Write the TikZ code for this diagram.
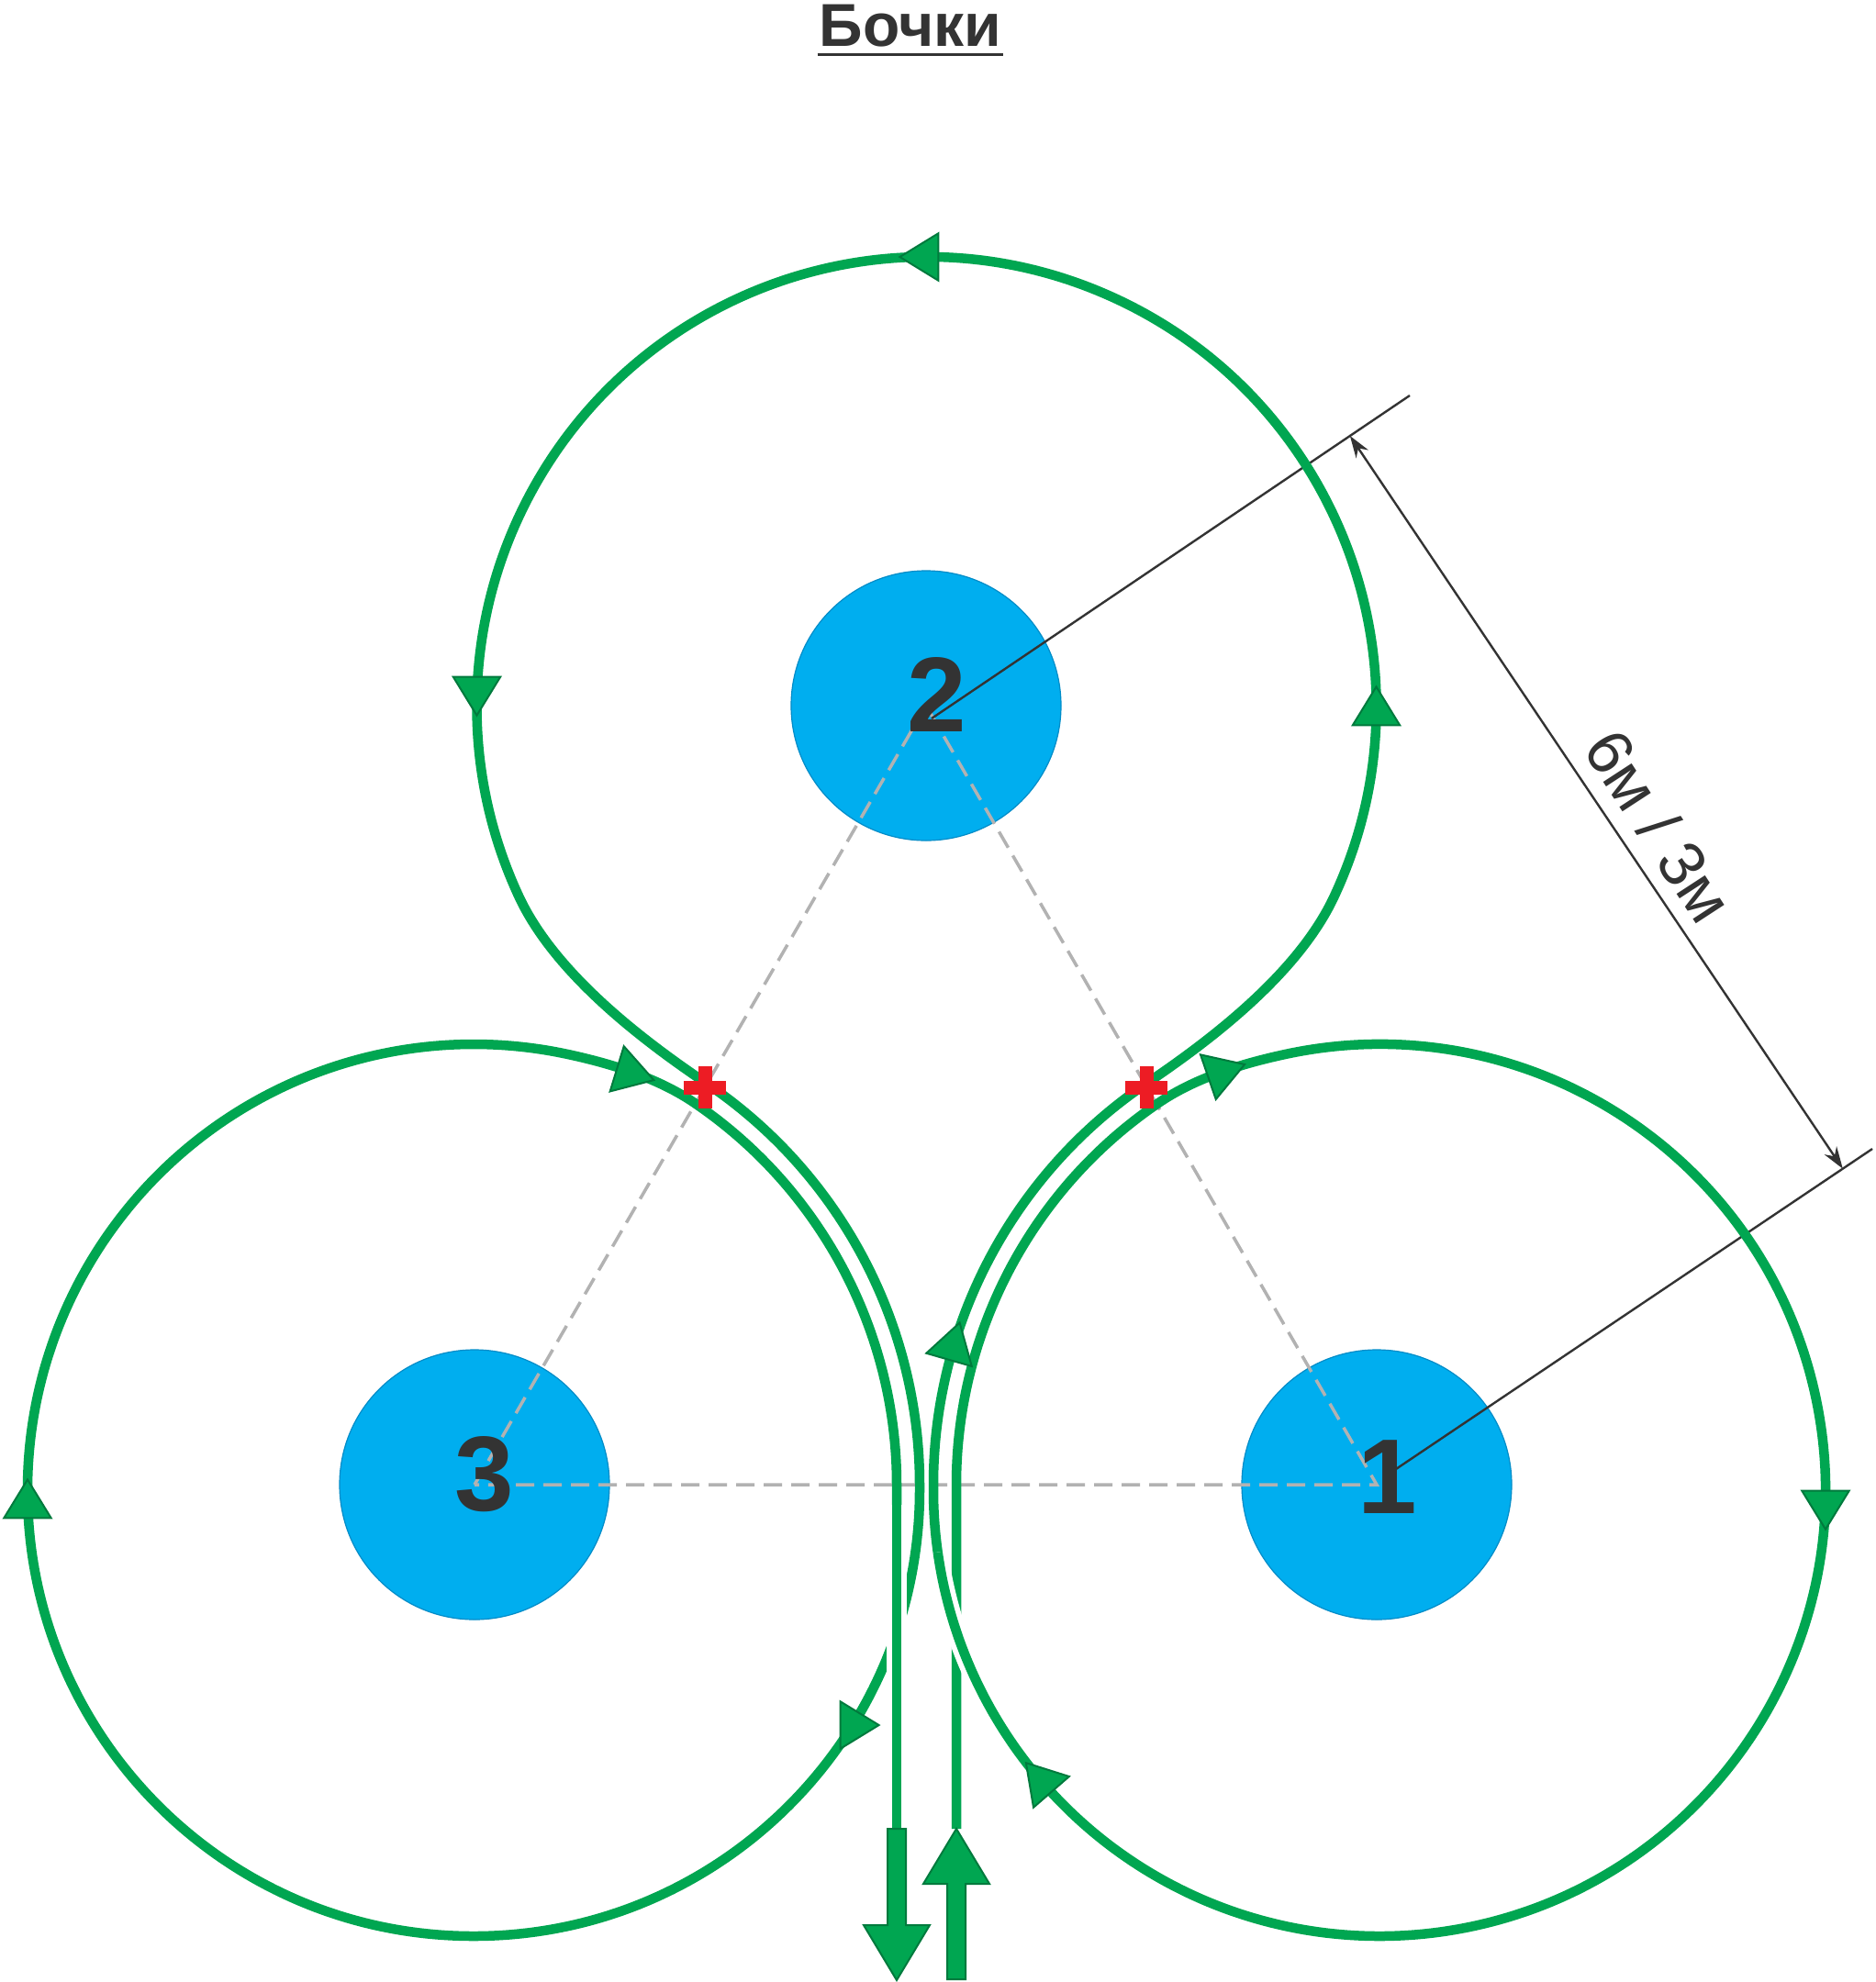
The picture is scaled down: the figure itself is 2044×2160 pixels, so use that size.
\documentclass[tikz,border=0pt]{standalone}
\usepackage{fontspec}
\setmainfont{Liberation Sans}
\usetikzlibrary{calc,arrows.meta,shapes.geometric}

\definecolor{trackgreen}{RGB}{0,166,81}
\definecolor{trackedge}{RGB}{0,122,61}
\definecolor{barrelblue}{RGB}{0,174,239}
\definecolor{barreledge}{RGB}{0,140,200}
\definecolor{crossred}{RGB}{237,28,36}
\definecolor{axisgray}{RGB}{178,178,178}
\definecolor{inkgray}{RGB}{51,51,51}

\tikzset{
  route/.style={draw=trackgreen, line width=5.25pt, line join=round},
  gapline/.style={draw=white, line width=11pt},
  barrel/.style={circle, fill=barrelblue, draw=barreledge, line width=0.6pt, minimum size=147pt, inner sep=0pt},
  barrelnum/.style={text=inkgray, font=\fontsize{58}{60}\selectfont\bfseries, inner sep=0pt},
  axisline/.style={draw=axisgray, line width=1.75pt, dash pattern=on 10pt off 5pt},
  dimline/.style={draw=inkgray, line width=1.2pt},
  tipmark/.style={isosceles triangle, isosceles triangle apex angle=63, minimum width=17pt, minimum height=21pt, inner sep=0pt, fill=trackgreen, draw=trackedge, line width=1pt},
  bigarrow/.style={fill=trackgreen, draw=trackedge, line width=1pt, line join=miter},
  plusmark/.style={draw=crossred, line width=7.5pt},
  titletext/.style={text=inkgray, font=\fontsize{33}{36}\selectfont\bfseries, inner sep=0pt},
  titlerule/.style={draw=inkgray, line width=1.5pt},
}

\begin{document}
\begin{tikzpicture}[x=0.5pt,y=0.5pt,yscale=-1,xscale=1]
        \useasboundingbox[fill=white] (0,0) rectangle (2044,2160);
        \coordinate (c1) at (1503,1624);
        \coordinate (c2) at (1009.5,770);
        \coordinate (c3) at (516,1624);
        \coordinate (k1) at (1545,1618);
        \coordinate (k3) at (474,1618);
        \node [barrel] (b1) at (1500,1618) {};
        \node [barrel] (b2) at (1009,769) {};
        \node [barrel] (b3) at (517,1618) {};
        \draw [axisline] (b3.center) -- (b2.center) -- (b1.center) -- (b3.center) ;
        \node [barrelnum] (n1) at ($(b1)+(12,-8)$) {1};
        \node [barrelnum] (n2) at ($(b2)+(12,-12)$) {2};
        \node [barrelnum] (n3) at ($(b3)+(11,-11)$) {3};
        \coordinate (l1a) at (1015,783);
        \coordinate (l1b) at (1536,431);
        \coordinate (l2a) at (1515,1605);
        \coordinate (l2b) at (2040,1252);
        \draw [dimline] (l1a) -- (l1b) ;
        \draw [dimline] (l2a) -- (l2b) ;
        \coordinate (t1) at ($(l1a)!0.875!(l1b)$);
        \coordinate (t2) at ($(l2a)!(t1)!(l2b)$);
        \draw [dimline, {Stealth[length=12pt,width=8pt]}-{Stealth[length=12pt,width=8pt]}] (t1) -- (t2) ;
        \node [rotate=-56.9, inner sep=0pt, text=inkgray, font=\fontsize{35}{40}\selectfont] (dimtext) at (1808,900) {6м / 3м};
        \draw [route] (1042,1993) -- (1042,1618)
          arc [start angle=180, end angle=236, radius=503]
          .. controls +(-34:48) and ($(c1)+(258:486)+(168:48)$) .. ($(c1)+(258:486)$)
          arc [start angle=258, end angle=540, radius=486]
          -- (1017,1618)
          arc [start angle=180, end angle=236, radius=528]
          .. controls +(-34:90) and ($(c2)+(25:490)+(115:90)$) .. ($(c2)+(25:490)$)
          arc [start angle=25, end angle=-205, radius=490]
          .. controls +(65:90) and ($(k3)+(304:528)+(214:90)$) .. ($(k3)+(304:528)$)
          arc [start angle=304, end angle=360, radius=528]
          -- (1002,1624)
          arc [start angle=0, end angle=282, radius=486]
          .. controls +(12:48) and ($(k3)+(304:503)+(214:48)$) .. ($(k3)+(304:503)$)
          arc [start angle=304, end angle=360, radius=503]
          -- (977,1993) ;
        \draw [gapline] ($(c1)+(140:486)$) arc [start angle=140, end angle=172, radius=486] ;
        \draw [route] ($(c1)+(140:486)$) arc [start angle=140, end angle=172, radius=486] ;
        \draw [gapline] (977,1640) -- (977,1993) ;
        \draw [route] (977,1640) -- (977,1993) ;
        \draw [bigarrow] (967,1993) -- (987,1993) -- (987,2098) -- (1013,2098) -- (977,2158) -- (941,2098) -- (967,2098) -- cycle ;
        \draw [bigarrow] (1032,2157) -- (1052,2157) -- (1052,2053) -- (1078,2053) -- (1042,1993) -- (1006,2053) -- (1032,2053) -- cycle ;
        \node [tipmark, rotate=180] (a1) at (1008,280) {};
        \node [tipmark, rotate=-90] (a2) at (519.5,752) {};
        \node [tipmark, rotate=90] (a3) at (1499.5,776) {};
        \node [tipmark, rotate=90] (a4) at (30,1640) {};
        \node [tipmark, rotate=-90] (a5) at (1989,1639) {};
        \node [tipmark, rotate=-17] (a6) at (686,1169) {};
        \node [tipmark, rotate=19] (a7) at (1330,1169) {};
        \node [tipmark, rotate=74] (a8) at (1038,1468) {};
        \node [tipmark, rotate=0] (a9) at (930,1880) {};
        \node [tipmark, rotate=131] (a10) at (1136,1942) {};
        \coordinate (xl) at (768,1185);
        \coordinate (xr) at (1249,1185);
        \foreach \p in {xl,xr}
          \draw [plusmark] ($(\p)+(-23,0)$) -- ($(\p)+(23,0)$) ($(\p)+(0,-23)$) -- ($(\p)+(0,23)$) ;
        \node [titletext, anchor=base] (title) at (992,50) {Бочки};
        \draw [titlerule] ($(title.base west)+(-2,9)$) -- ($(title.base east)+(2,9)$) ;
\end{tikzpicture}
\end{document}
